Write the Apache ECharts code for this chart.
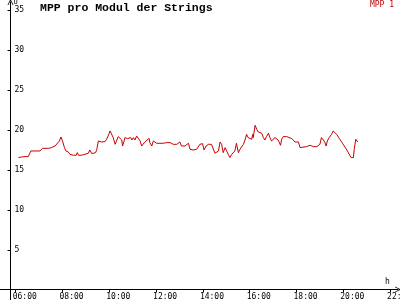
<!DOCTYPE html>
<html>
<head>
<meta charset="utf-8">
<script src="https://cdn.jsdelivr.net/npm/echarts@6/dist/echarts.min.js"></script>
<style>html,body{margin:0;padding:0;background:#fff;}#c{width:400px;height:300px;}</style>
</head>
<body>
<div id="c"></div>
<script>
const times = ["06:07","06:15","06:20","06:24","06:32","06:39","07:02","07:09","07:18","07:21","07:25","07:28","07:32","07:41","07:45","07:52","07:56","07:58","08:00","08:05","08:09","08:15","08:19","08:28","08:35","08:38","08:41","08:49","08:53","09:06","09:10","09:15","09:19","09:25","09:28","09:32","09:36","09:40","09:45","09:49","09:53","09:57","10:02","10:06","10:10","10:15","10:19","10:23","10:27","10:32","10:34","10:38","10:40","10:45","10:47","10:51","10:55","10:58","11:02","11:06","11:10","11:14","11:19","11:23","11:27","11:31","11:36","11:42","11:44","11:49","11:53","11:57","12:01","12:06","12:10","12:14","12:18","12:22","12:27","12:31","12:36","12:40","12:44","12:48","12:53","12:57","13:01","13:05","13:10","13:14","13:18","13:23","13:27","13:31","13:35","13:40","13:44","13:48","13:52","13:59","14:03","14:08","14:14","14:22","14:27","14:31","14:35","14:40","14:44","14:48","14:52","14:57","15:01","15:05","15:09","15:14","15:18","15:22","15:26","15:31","15:35","15:39","15:44","15:48","15:52","15:56","16:01","16:05","16:08","16:09","16:14","16:18","16:22","16:31","16:35","16:39","16:43","16:48","16:52","16:56","17:01","17:05","17:07","17:13","17:18","17:19","17:22","17:26","17:30","17:35","17:39","17:48","17:52","17:56","18:00","18:05","18:09","18:13","18:26","18:35","18:39","18:43","18:47","18:52","18:56","19:00","19:04","19:09","19:13","19:16","19:19","19:24","19:30","19:34","19:39","19:43","19:50","19:58","20:07","20:20","20:26","20:28","20:32","20:37"];
const values = [16.55,16.63,16.55,16.67,16.67,17.38,17.38,17.71,17.71,17.59,17.71,17.67,17.8,18.0,18.21,18.63,19.13,19.25,18.63,17.8,17.38,17.25,16.96,16.84,16.84,17.17,16.84,16.84,17.09,17.09,17.5,17.05,16.88,17.17,17.59,18.63,18.63,18.5,18.75,18.55,18.84,19.25,19.88,19.75,19.05,18.21,18.42,19.17,19.05,18.75,18.0,18.63,19.05,19.25,18.92,18.75,19.05,18.75,19.05,18.75,19.25,19.05,18.63,18.0,18.09,18.5,18.63,18.96,18.42,18.0,18.63,18.63,18.34,18.21,18.34,18.5,18.34,18.42,18.42,18.34,18.42,18.63,18.21,18.13,18.21,18.34,18.5,18.0,17.92,18.0,18.21,18.34,17.59,17.59,17.5,17.67,17.59,17.67,18.2,18.3,17.5,18.0,18.21,18.21,18.0,17.09,17.17,17.38,18.5,18.21,17.17,17.8,17.38,16.96,16.55,16.96,17.17,17.38,18.34,17.17,17.59,17.59,18.21,18.75,19.46,19.05,19.25,18.84,19.46,19.05,20.59,20.09,19.75,19.59,19.05,18.75,19.17,19.59,19.05,18.63,18.75,19.05,19.17,18.75,18.5,18.09,18.84,19.17,19.34,19.17,18.92,18.92,18.84,18.5,18.42,18.5,17.8,17.92,17.92,18.09,18.21,17.92,17.67,17.92,17.67,18.21,19.05,18.75,18.42,18.0,18.63,19.05,19.46,19.88,19.88,19.46,18.92,18.34,17.67,16.55,16.55,17.59,18.84,18.5];
const xTickLabels = ["06:00","08:00","10:00","12:00","14:00","16:00","18:00","20:00","22:00"];
const yTickLabels = [5,10,15,20,25,30,35];
const seriesName = "MPP 1";
const titleText = "MPP pro Modul der Strings";

function toH(s){ const p = s.split(':').map(Number); return p[0] + p[1]/60; }
const xTickVals = xTickLabels.map(toH);
const data = times.map((t,i) => [toH(t), values[i]]);
const arrow = 'path://M0,10 L5,0 L10,10 L8.6,10 L5,2.8 L1.4,10 Z';
const mono = 'DejaVu Sans Mono';

const chart = echarts.init(document.getElementById('c'), null, {renderer:'canvas'});
chart.setOption({
  animation: false,
  backgroundColor: '#ffffff',
  title: { text: titleText, left: 40, top: 2, padding: 0,
    textStyle: { fontFamily: 'Liberation Mono', fontWeight: 'bold', fontSize: 11.5, color: '#000' } },
  legend: { data: [seriesName], right: 6, top: 1, padding: 0, icon: 'none', itemWidth: 0, itemHeight: 0, itemGap: 0,
    textStyle: { color: '#c00000', fontFamily: mono, fontSize: 8, padding: 0 } },
  grid: { left: 0, right: 2, top: 2, bottom: 0, containLabel: false, outerBoundsMode: 'none' },
  xAxis: {
    type: 'value', min: 5.329, max: 22.338, offset: -10.5,
    name: 'h', nameLocation: 'end', nameGap: -13,
    nameTextStyle: { fontFamily: mono, fontSize: 8, color: '#000', verticalAlign: 'bottom', padding: [0,0,4,0] },
    axisLine: { onZero: false, lineStyle: { color: '#000', width: 1 }, symbol: ['none', arrow], symbolSize: [7, 6] },
    axisTick: { customValues: xTickVals, length: 3, lineStyle: { color: '#000' } },
    axisLabel: { customValues: xTickVals, margin: 3, align: 'left', padding: [0,0,0,-3], fontFamily: mono, fontSize: 8, color: '#000', hideOverlap: false,
      formatter: v => { let best = 0; xTickVals.forEach((t,i)=>{ if (Math.abs(t-v) < Math.abs(xTickVals[best]-v)) best = i; }); return xTickLabels[best]; } },
    splitLine: { show: false }
  },
  yAxis: {
    type: 'value', min: -1.25, max: 36, offset: -10.5,
    name: 'U', nameLocation: 'end', nameGap: -1,
    nameTextStyle: { fontFamily: mono, fontSize: 7, color: '#000', align: 'left', verticalAlign: 'top', padding: [0,0,0,3] },
    axisLine: { onZero: false, lineStyle: { color: '#000', width: 1 }, symbol: ['none', arrow], symbolSize: [7, 6] },
    axisTick: { customValues: yTickLabels, length: 3, lineStyle: { color: '#000' } },
    axisLabel: { customValues: yTickLabels, inside: true, margin: 4, fontFamily: mono, fontSize: 8, color: '#000' },
    splitLine: { show: false }
  },
  series: [{
    name: seriesName, type: 'line', data: data, showSymbol: false, symbol: 'none',
    lineStyle: { color: '#c80000', width: 1 }, itemStyle: { color: '#c80000' }
  }]
});
</script>
</body>
</html>
